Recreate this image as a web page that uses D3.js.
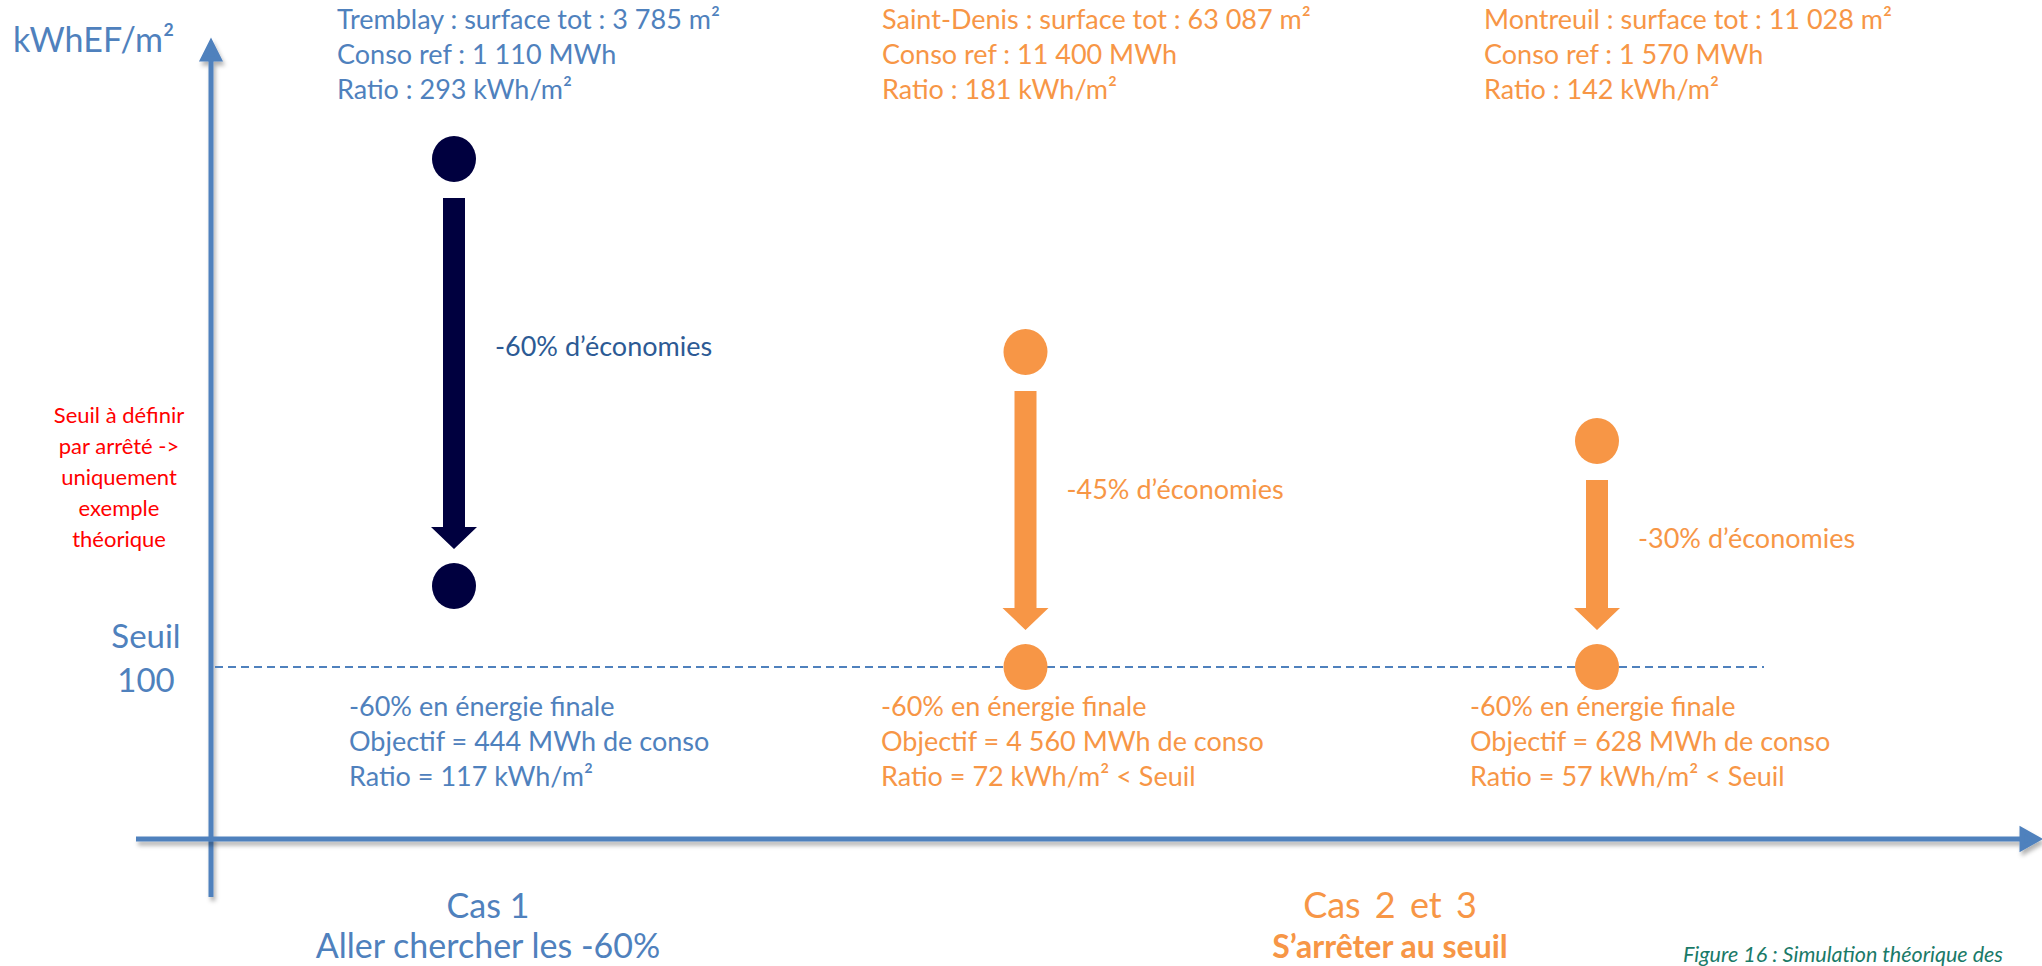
<!DOCTYPE html>
<html>
<head>
<meta charset="utf-8">
<script src="https://cdn.jsdelivr.net/npm/d3@7/dist/d3.min.js"></script>
<style>
  body { margin: 0; background: #fff; }
  svg text { font-family: Lato, 'Open Sans', sans-serif; }
</style>
</head>
<body>
<div id="chart"></div>
<script>
// values
const sites = ['Tremblay', 'Saint-Denis', 'Montreuil'];
const surfaces = ['3 785', '63 087', '11 028'];     // m²
const consoRef = ['1 110', '11 400', '1 570'];      // MWh
const ratioRef = [293, 181, 142];                   // kWh/m²
const reduction = 60;                               // % en énergie finale
const objectif = ['444', '4 560', '628'];           // MWh
const ratioTarget = [117, 72, 57];                  // kWh/m²
const seuil = 100;
const caseLabels = [['Cas 1', 'Aller chercher les -60%'], ['Cas 2 et 3', 'S\u2019arrêter au seuil']];

const blue = '#4f81bd';
const orange = '#f79646';
const navy = '#00003f';
const markColor = [navy, orange, orange];
const textColor = [blue, orange, orange];
const savingColor = ['#2c5a94', orange, orange];

const width = 2042, height = 966;

// the arrow stops at the target, or at the threshold if the target is below it
const endValue = ratioTarget.map(v => Math.max(v, seuil));
const savings = ratioRef.map((r, i) => Math.round((1 - endValue[i] / r) * 100));

let svg = d3.select('#chart')
  .append('svg')
  .attr('width', width)
  .attr('height', height)
  .style('background', '#fff');

let defs = svg.append('defs');
defs.append('filter')
  .attr('id', 'shadow')
  .attr('filterUnits', 'userSpaceOnUse')
  .attr('x', 0).attr('y', 0).attr('width', width).attr('height', height)
  .append('feDropShadow')
    .attr('dx', 2).attr('dy', 4).attr('stdDeviation', 2)
    .attr('flood-color', '#000').attr('flood-opacity', 0.3);

let x = d3.scalePoint()
  .domain(sites)
  .range([454, 1597]);

// the original axis is schematic, not to scale: piecewise linear
const levels = d3.sort(new Set([...ratioRef, ...endValue]));
let y = d3.scaleLinear()
  .domain(levels)
  .range([667, 586, 441, 352, 159]);

// axes
const axisX0 = 211, axisY0 = 839;
svg.append('path')
  .attr('d', `M${axisX0},897 V59 h-8 l8,-16 l8,16 h-8`)
  .attr('fill', blue)
  .attr('stroke', blue)
  .attr('stroke-width', 5)
  .attr('stroke-linejoin', 'miter')
  .attr('filter', 'url(#shadow)');

svg.append('path')
  .attr('d', `M136,${axisY0} H2022 v-9 l16,9 l-16,9 v-9`)
  .attr('fill', blue)
  .attr('stroke', blue)
  .attr('stroke-width', 5)
  .attr('filter', 'url(#shadow)');

svg.append('text')
  .attr('x', 13).attr('y', 52)
  .attr('fill', blue)
  .style('font-size', '34px')
  .text('kWhEF/m²');

// threshold
svg.append('line')
  .attr('x1', 215).attr('x2', 1764)
  .attr('y1', y(seuil)).attr('y2', y(seuil))
  .attr('stroke', blue)
  .attr('stroke-width', 2)
  .attr('stroke-dasharray', '8,5');

svg.append('text')
  .attr('text-anchor', 'middle')
  .attr('fill', blue)
  .style('font-size', '33px')
  .selectAll('tspan')
  .data(['Seuil', seuil])
  .enter()
  .append('tspan')
    .attr('x', 146)
    .attr('y', (d, i) => y(seuil) - 19 + i * 44)
    .text(d => d);

svg.append('text')
  .attr('text-anchor', 'middle')
  .attr('fill', '#ff0000')
  .style('font-size', '22px')
  .selectAll('tspan')
  .data(['Seuil à définir', 'par arrêté ->', 'uniquement', 'exemple', 'théorique'])
  .enter()
  .append('tspan')
    .attr('x', 119)
    .attr('y', (d, i) => 423 + i * 31)
    .text(d => d);

// arrows
const sw = 11, hw = 23, hl = 22;
const shaftTop = i => y(ratioRef[i]) + 39;
const tipY = i => y(endValue[i]) - 37;
svg.selectAll('path.arrow')
  .data(sites)
  .enter()
  .append('path')
    .attr('class', 'arrow')
    .attr('fill', (d, i) => markColor[i])
    .attr('d', (d, i) => {
      const cx = x(d);
      const y0 = shaftTop(i);
      const y1 = tipY(i);
      return `M${cx - sw},${y0} H${cx + sw} V${y1 - hl} H${cx + hw} L${cx},${y1} L${cx - hw},${y1 - hl} H${cx - sw} Z`;
    });

// start and end points
const points = sites.flatMap((s, i) => [
  {site: s, value: ratioRef[i], i: i},
  {site: s, value: endValue[i], i: i}
]);
svg.selectAll('ellipse')
  .data(points)
  .enter()
  .append('ellipse')
    .attr('cx', d => x(d.site))
    .attr('cy', d => y(d.value))
    .attr('rx', 22)
    .attr('ry', 23)
    .attr('fill', d => markColor[d.i]);

svg.selectAll('text.saving')
  .data(sites)
  .enter()
  .append('text')
    .attr('class', 'saving')
    .attr('x', d => x(d) + 41)
    .attr('y', (d, i) => shaftTop(i) + 0.45 * (tipY(i) - shaftTop(i)))
    .attr('fill', (d, i) => savingColor[i])
    .style('font-size', '27px')
    .text((d, i) => `-${savings[i]}% d\u2019économies`);

// text blocks
const topLines = sites.map((s, i) => [
  `${s} : surface tot : ${surfaces[i]} m²`,
  `Conso ref : ${consoRef[i]} MWh`,
  `Ratio : ${ratioRef[i]} kWh/m²`
]);
const bottomLines = sites.map((s, i) => [
  `-${reduction}% en énergie finale`,
  `Objectif = ${objectif[i]} MWh de conso`,
  `Ratio = ${ratioTarget[i]} kWh/m²` + (ratioTarget[i] < seuil ? ' < Seuil' : '')
]);
const topX = [337, 882, 1484], bottomX = [349, 881, 1470];

function block(lines, xs, y0) {
  svg.selectAll(null)
    .data(lines)
    .enter()
    .append('text')
      .attr('fill', (d, i) => textColor[i])
      .style('font-size', '27px')
      .each(function(d, i) {
        d3.select(this).selectAll('tspan')
          .data(d)
          .enter()
          .append('tspan')
            .attr('x', xs[i])
            .attr('y', (t, j) => y0 + j * 35)
            .text(t => t);
      });
}
block(topLines, topX, 29);
block(bottomLines, bottomX, 716);

// case labels
const caseX = [488, 1390];
caseLabels.forEach((lab, k) => {
  const col = k === 0 ? blue : orange;
  svg.append('text')
    .attr('x', caseX[k]).attr('y', 918)
    .attr('text-anchor', 'middle')
    .attr('fill', col)
    .style('font-size', k === 0 ? '34px' : '36px')
    .style('word-spacing', k === 0 ? '0px' : '5px')
    .text(lab[0]);
  svg.append('text')
    .attr('x', caseX[k]).attr('y', 958)
    .attr('text-anchor', 'middle')
    .attr('fill', col)
    .style('font-size', k === 0 ? '34px' : '32px')
    .style('font-weight', k === 0 ? 'normal' : 'bold')
    .text(lab[1]);
});

svg.append('text')
  .attr('x', 1683).attr('y', 962)
  .attr('fill', '#1a7a68')
  .style('font-size', '21.5px')
  .style('font-style', 'italic')
  .text('Figure 16 : Simulation théorique des');
</script>
</body>
</html>
